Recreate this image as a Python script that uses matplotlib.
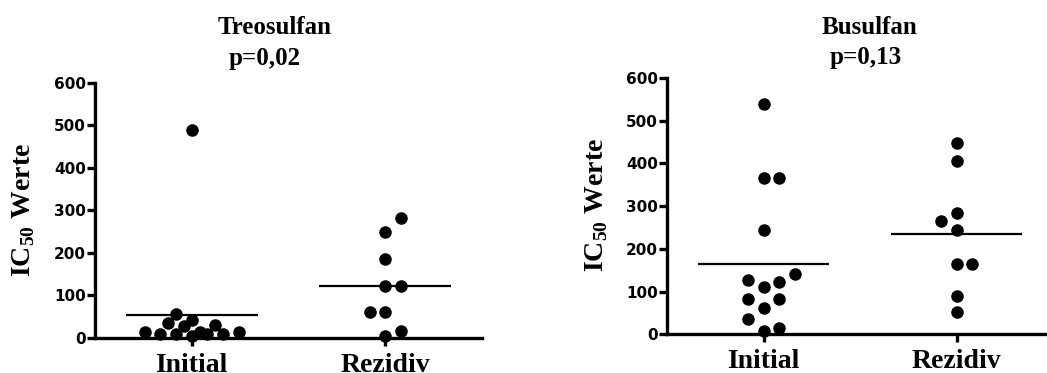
import numpy as np
import matplotlib
matplotlib.use("Agg")
import matplotlib.pyplot as plt

# ---- data ----
categories = ["Initial", "Rezidiv"]

treo_initial = [490, 55.7, 42, 36, 30.6, 29, 15, 15, 13.4, 8.6, 8.6, 8.6, 8.6, 4.7]
treo_rezidiv = [281, 248, 186, 122, 122, 62, 62, 17, 5.5]
busu_initial = [539, 367, 367, 244, 140.5, 127, 123, 111.5, 82, 82, 61, 36, 8.5, 14]
busu_rezidiv = [449, 407, 285, 265, 244, 164, 164, 90, 53]

titles = ["Treosulfan", "Busulfan"]
pvalues = ["p=0,02", "p=0,13"]
yticks = [0, 100, 200, 300, 400, 500, 600]

# horizontal swarm slots (layout of the dot plot, in dot-slot units)
treo_initial_slots = [0, -2, 0, -3, 3, -1, -6, 1, 6, -4, -2, 2, 4, 0]
treo_rezidiv_slots = [2, 0, 0, 0, 2, -2, 0, 2, 0]
busu_initial_slots = [0, 0, 2, 0, 4, -2, 2, 0, -2, 2, 0, -2, 0, 2]
busu_rezidiv_slots = [0, 0, 0, -2, 0, 0, 2, 0, 0]

plt.rcParams["mathtext.fontset"] = "custom"
plt.rcParams["mathtext.bf"] = "Liberation Serif:bold"
plt.rcParams["mathtext.rm"] = "Liberation Serif:bold"

W, H = 1047, 373
fig = plt.figure(figsize=(W / 100, H / 100), dpi=100)

SLOT = 0.0406
LW = 2.4

panels = [
    dict(rect=[95 / W, 35 / H, 387 / W, 255.3 / H],
         groups=[(treo_initial, treo_initial_slots), (treo_rezidiv, treo_rezidiv_slots)],
         title=titles[0], p=pvalues[0], tsize=18,
         tx1=275, tx2=265, ty1=34, ty2=65, ylx=23, yly=210),
    dict(rect=[667 / W, 38.7 / H, 386 / W, 256.2 / H],
         groups=[(busu_initial, busu_initial_slots), (busu_rezidiv, busu_rezidiv_slots)],
         title=titles[1], p=pvalues[1], tsize=18,
         tx1=870, tx2=866, ty1=34, ty2=64, ylx=596, yly=205),
]

for pn in panels:
    ax = fig.add_axes(pn["rect"])
    for i, (vals, slots) in enumerate(pn["groups"]):
        xs = i + SLOT * np.asarray(slots, dtype=float)
        ax.plot(xs, vals, "o", color="black", markersize=8, clip_on=False, zorder=5)
        m = np.mean(vals)
        ax.plot([i - 0.34, i + 0.34], [m, m], color="black", lw=1.6,
                solid_capstyle="butt", clip_on=False, zorder=4)
    ax.set_xlim(-0.5, 1.5)
    ax.set_ylim(0, 600)
    ax.set_yticks(yticks)
    ax.set_yticklabels([str(t) for t in yticks], fontfamily="DejaVu Sans",
                       fontweight="bold", fontsize=11)
    ax.set_xticks([0, 1])
    ax.set_xticklabels(categories, fontfamily="Liberation Serif",
                       fontweight="bold", fontsize=20)
    for s in ["top", "right"]:
        ax.spines[s].set_visible(False)
    for s in ["left", "bottom"]:
        ax.spines[s].set_linewidth(LW)
        ax.spines[s].set_capstyle("projecting")
    ax.tick_params(axis="y", direction="out", length=6, width=LW, pad=0.5)
    ax.tick_params(axis="x", direction="out", length=5.5, width=LW, pad=5)
    ax.patch.set_visible(False)

    fig.text(pn["tx1"] / W, 1 - pn["ty1"] / H, pn["title"], ha="center",
             va="baseline", fontfamily="Liberation Serif", fontweight="bold",
             fontsize=pn["tsize"])
    fig.text(pn["tx2"] / W, 1 - pn["ty2"] / H, pn["p"], ha="center",
             va="baseline", fontfamily="Liberation Serif", fontweight="bold",
             fontsize=pn["tsize"])
    fig.text(pn["ylx"] / W, 1 - pn["yly"] / H,
             r"$\mathbf{IC}_{\mathbf{50}}\;\mathbf{Werte}$", rotation=90,
             ha="center", va="center", fontsize=20)

fig.savefig("out.png", dpi=100)
